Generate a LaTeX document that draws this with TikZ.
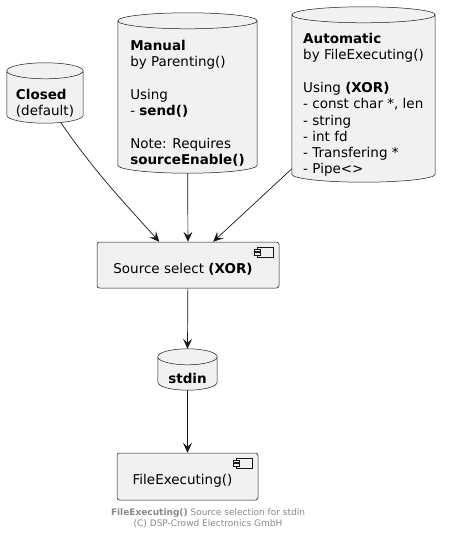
\documentclass[tikz,border=0pt]{standalone}
\usepackage{fontspec}
\setmainfont{DejaVu Sans}
\usepackage{xcolor}
\usepackage{tikz}
\usetikzlibrary{calc,arrows.meta,backgrounds}
\definecolor{linec}{HTML}{181818}
\definecolor{boxc}{HTML}{F1F1F1}
\definecolor{capc}{HTML}{888888}
\tikzset{
  ar/.style={-{Stealth[length=10pt,width=9pt,inset=4pt]},linec,line width=0.7pt},
  db/.style={inner sep=0pt,font=\fontsize{13.5}{16.3}\selectfont},
  dbline/.style={draw=linec,fill=boxc,line width=0.5pt},
  comp/.style={draw=linec,fill=boxc,line width=0.5pt,rounded corners=2.5pt,inner sep=0pt,
    font=\fontsize{13.5}{16.3}\selectfont,text height=19pt,execute at end node={\hspace*{10pt}}},
  icon/.style={draw=linec,line width=0.5pt,fill=boxc}
}
% left aligned lines, set a little low in the body
\newcommand{\dbtxt}[1]{\raisebox{-3pt}[\height][\depth]{\begin{tabular}{@{}l@{}}#1\end{tabular}}}
% cylinder round the body of a node: top cap above it, bottom arc at its south
\newcommand{\cyl}[1]{%
  \begin{scope}[on background layer]
  \draw[dbline] let \p1=(#1.north west),\p2=(#1.south east),\n1={(\x2-\x1)/2} in
    (\x1,\y1+8pt) -- (\x1,\y2+8pt) arc[start angle=180,end angle=360,x radius=\n1,y radius=8pt]
    -- (\x2,\y1+8pt) arc[start angle=0,end angle=180,x radius=\n1,y radius=8pt] -- cycle
    (\x1,\y1+8pt) arc[start angle=180,end angle=360,x radius=\n1,y radius=8pt];
  \end{scope}}
% small component symbol at the top right corner
\newcommand{\compicon}[1]{%
  \draw[icon] ([shift={(-22pt,-5pt)}]#1.north east) rectangle ([shift={(-6pt,-15pt)}]#1.north east);
  \draw[icon] ([shift={(-25pt,-7pt)}]#1.north east) rectangle ([shift={(-19pt,-9.5pt)}]#1.north east);
  \draw[icon] ([shift={(-25pt,-10.5pt)}]#1.north east) rectangle ([shift={(-19pt,-13pt)}]#1.north east);}

\begin{document}
\begin{tikzpicture}[x=1pt,y=1pt]
\useasboundingbox (0,0) rectangle (450,-534);
% sources
\node[db,minimum width=76,minimum height=44] (closed) at (45,-101) {\dbtxt{\textbf{Closed}\\(default)}};
\node[db,minimum width=139,minimum height=144] (manual) at (187.5,-101)
  {\dbtxt{\textbf{Manual}\\by Parenting()\\ \\Using\\- \textbf{send()}\\ \\Note: Requires\\\textbf{sourceEnable()}}};
\node[db,minimum width=143,minimum height=159] (auto) at (363.5,-102.5)
  {\dbtxt{\textbf{Automatic}\\by FileExecuting()\\ \\Using \textbf{(XOR)}\\- const char *, len\\- string\\- int fd\\- Transfering *\\- Pipe<>}};
\cyl{closed}\cyl{manual}\cyl{auto}
% selection and target
\node[comp,minimum width=182,minimum height=46] (select) at (188,-265) {Source select \textbf{(XOR)}};
\compicon{select}
\node[db,minimum width=59,minimum height=25] (stdin) at (187.5,-377.5) {\dbtxt{\textbf{stdin}}};
\cyl{stdin}
\node[comp,minimum width=141,minimum height=47] (fexec) at (187.5,-476.5) {FileExecuting()};
\compicon{fexec}
% connectors
\draw[ar] (closed.-54) to[out=-55,in=132] (select.141);
\draw[ar] (manual) -- (select);
\draw[ar] (auto) -- (select);
\draw[ar] (select) -- ([yshift=16pt]stdin.north);
\draw[ar] (stdin) -- (fexec);
% caption
\node[capc,align=center,font=\fontsize{9}{10.5}\selectfont] (cap) at (208,-518)
  {\textbf{FileExecuting()} Source selection for stdin\\(C) DSP-Crowd Electronics GmbH};
\end{tikzpicture}
\end{document}
